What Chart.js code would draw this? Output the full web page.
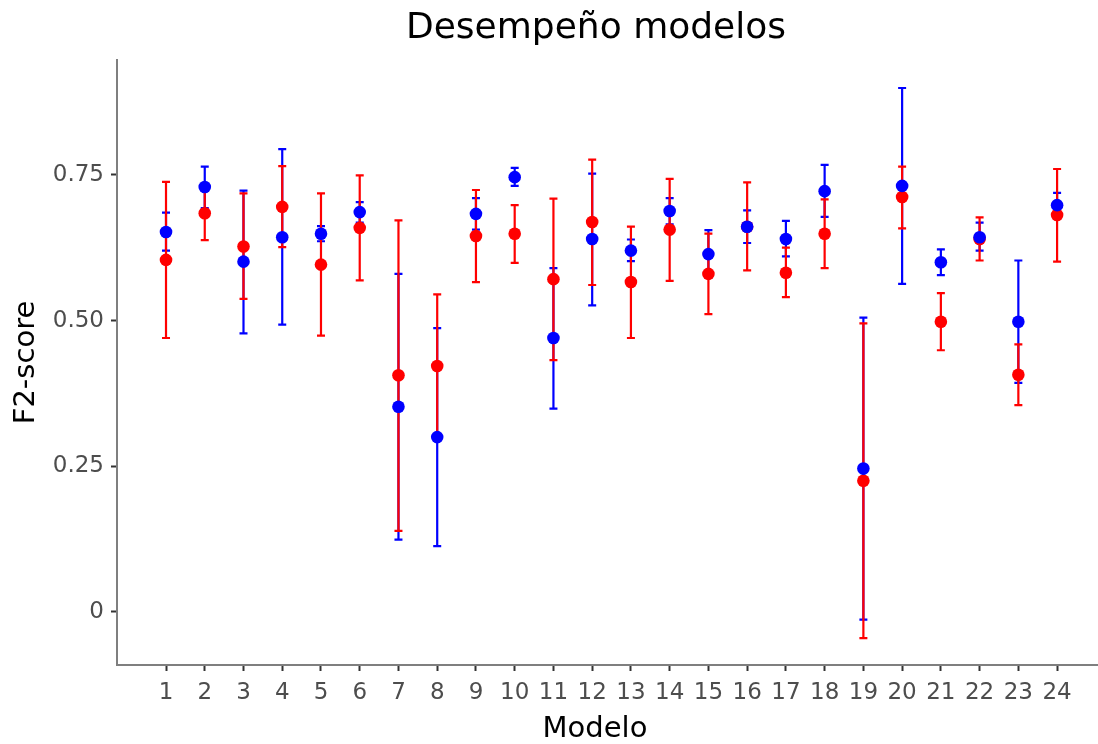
<!DOCTYPE html>
<html>
<head>
<meta charset="utf-8">
<script src="https://cdn.jsdelivr.net/npm/chart.js@4/dist/chart.umd.min.js"></script>
<style>
  body { margin: 0; background: #fff; }
</style>
</head>
<body>
<canvas id="modelChart" width="1098" height="744"></canvas>
<script>
const models = [1, 2, 3, 4, 5, 6, 7, 8, 9, 10, 11, 12, 13, 14, 15, 16, 17, 18, 19, 20, 21, 22, 23, 24];

const blueMean = [0.652, 0.729, 0.601, 0.643, 0.649, 0.686, 0.352, 0.300, 0.683, 0.746, 0.470, 0.640,
                  0.620, 0.688, 0.614, 0.661, 0.640, 0.722, 0.246, 0.731, 0.600, 0.643, 0.498, 0.698];
const blueLow  = [0.620, 0.693, 0.478, 0.493, 0.636, 0.668, 0.124, 0.113, 0.656, 0.731, 0.349, 0.526,
                  0.602, 0.665, 0.574, 0.633, 0.610, 0.678, -0.013, 0.563, 0.578, 0.620, 0.393, 0.677];
const blueHigh = [0.685, 0.764, 0.723, 0.794, 0.662, 0.703, 0.580, 0.487, 0.710, 0.762, 0.590, 0.752,
                  0.639, 0.710, 0.655, 0.689, 0.671, 0.767, 0.505, 0.899, 0.622, 0.668, 0.603, 0.719];

const redMean = [0.604, 0.684, 0.627, 0.695, 0.596, 0.659, 0.406, 0.422, 0.645, 0.649, 0.571, 0.669,
                 0.566, 0.656, 0.580, 0.661, 0.582, 0.649, 0.225, 0.712, 0.498, 0.640, 0.407, 0.681];
const redLow  = [0.470, 0.638, 0.537, 0.626, 0.474, 0.569, 0.139, 0.299, 0.566, 0.599, 0.432, 0.561,
                 0.470, 0.568, 0.511, 0.586, 0.540, 0.590, -0.045, 0.658, 0.449, 0.603, 0.355, 0.601];
const redHigh = [0.738, 0.729, 0.718, 0.765, 0.718, 0.749, 0.672, 0.545, 0.724, 0.698, 0.709, 0.776,
                 0.661, 0.743, 0.649, 0.737, 0.625, 0.708, 0.495, 0.764, 0.547, 0.677, 0.459, 0.760];

const yTicks = [0, 0.25, 0.5, 0.75];
const yTickLabels = ['0', '0.25', '0.50', '0.75'];

const BLUE = '#0000ff';
const RED = '#ff0000';
const FONT = "'DejaVu Sans', sans-serif";

function toPoints(means, lows, highs) {
    return models.map((m, i) => ({ x: m, y: means[i], low: lows[i], high: highs[i] }));
}

const errorBars = {
    id: 'errorBars',
    afterLayout(chart) {
        // center the title over the plot, not the whole canvas
        const t = chart.titleBlock;
        if (t) {
            t.left = 94;
            t.right = 1098;
        }
    },
    // error bars go under every point, blue first then red
    beforeDatasetsDraw(chart) {
        const ctx = chart.ctx;
        const xs = chart.scales.x;
        const ys = chart.scales.y;
        ctx.save();
        ctx.lineWidth = 2.2;
        chart.data.datasets.forEach(ds => {
            ctx.strokeStyle = ds.backgroundColor;
            ds.data.forEach(p => {
                const px = xs.getPixelForValue(p.x);
                const top = ys.getPixelForValue(p.high);
                const bot = ys.getPixelForValue(p.low);
                ctx.beginPath();
                ctx.moveTo(px, top);
                ctx.lineTo(px, bot);
                ctx.moveTo(px - 4, top);
                ctx.lineTo(px + 4, top);
                ctx.moveTo(px - 4, bot);
                ctx.lineTo(px + 4, bot);
                ctx.stroke();
            });
        });
        ctx.restore();
    },
    afterDraw(chart) {
        // x axis title, lined up with the main title
        const ctx = chart.ctx;
        ctx.save();
        ctx.fillStyle = '#000';
        ctx.font = '29px ' + FONT;
        ctx.textAlign = 'center';
        ctx.textBaseline = 'middle';
        ctx.fillText('Modelo', 595, 729);
        ctx.restore();
    }
};

const ctx = document.getElementById('modelChart').getContext('2d');
const chart = new Chart(ctx, {
    type: 'scatter',
    data: {
        datasets: [{
            label: 'azul',
            data: toPoints(blueMean, blueLow, blueHigh),
            backgroundColor: BLUE,
            borderColor: BLUE,
            pointRadius: 6.3,
            borderWidth: 0
        }, {
            label: 'rojo',
            data: toPoints(redMean, redLow, redHigh),
            backgroundColor: RED,
            borderColor: RED,
            pointRadius: 6.3,
            borderWidth: 0
        }]
    },
    options: {
        responsive: false,
        animation: false,
        layout: { autoPadding: false, padding: { left: 0, right: 1, top: 0, bottom: 0 } },
        plugins: {
            legend: { display: false },
            tooltip: { enabled: false },
            title: {
                display: true,
                text: 'Desempeño modelos',
                color: '#000',
                font: { family: FONT, size: 36, weight: 'normal' },
                padding: { top: 7, bottom: 9.8 }
            }
        },
        scales: {
            x: {
                type: 'linear',
                min: -0.265,
                max: 25.03,
                afterBuildTicks: scale => {
                    scale.ticks = models.map(v => ({ value: v }));
                },
                afterFit: scale => {
                    scale.height = 79;
                    scale.paddingLeft = 0;
                    scale.paddingRight = 0;
                },
                ticks: {
                    color: '#4d4d4d',
                    font: { family: FONT, size: 23 },
                    padding: 8,
                    maxRotation: 0,
                    autoSkip: false
                },
                grid: {
                    drawOnChartArea: false,
                    tickLength: 6,
                    tickColor: '#333333',
                    tickWidth: 2
                },
                border: { color: '#7f7f7f', width: 2 },
                title: { display: false }
            },
            y: {
                min: -0.091,
                max: 0.947,
                afterBuildTicks: scale => {
                    scale.ticks = yTicks.map(v => ({ value: v }));
                },
                afterFit: scale => {
                    scale.width = 117;
                    scale.paddingTop = 0;
                    scale.paddingBottom = 0;
                },
                ticks: {
                    color: '#4d4d4d',
                    font: { family: FONT, size: 23 },
                    padding: 7,
                    callback: v => yTickLabels[yTicks.indexOf(v)]
                },
                grid: {
                    drawOnChartArea: false,
                    tickLength: 6,
                    tickColor: '#333333',
                    tickWidth: 2
                },
                border: { color: '#7f7f7f', width: 2 },
                title: {
                    display: true,
                    text: 'F2-score',
                    color: '#000',
                    font: { family: FONT, size: 29 },
                    padding: { top: 8.6, bottom: 0 }
                }
            }
        }
    },
    plugins: [errorBars]
});
</script>
</body>
</html>
